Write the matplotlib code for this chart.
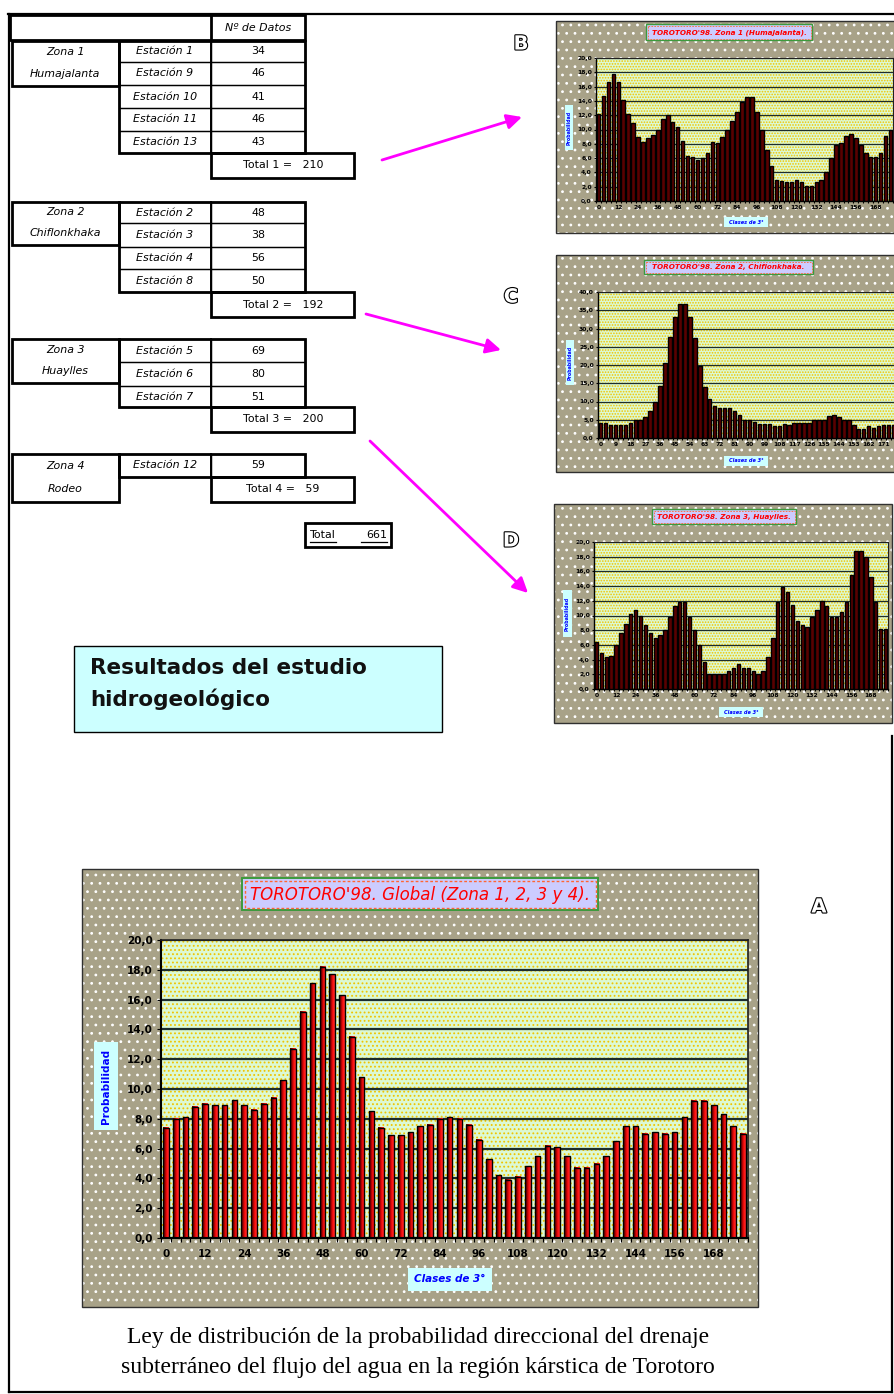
import numpy as np
import matplotlib
matplotlib.use("Agg")
import matplotlib.pyplot as plt
from matplotlib.patches import Rectangle
from matplotlib.colors import LinearSegmentedColormap
import matplotlib.patheffects as pe

# ---------------------------------------------------------------- data
zone_names = ["Zona 1", "Zona 2", "Zona 3", "Zona 4"]
zone_places = ["Humajalanta", "Chiflonkhaka", "Huaylles", "Rodeo"]
zone_stations = [
    ["Estación 1", "Estación 9", "Estación 10", "Estación 11", "Estación 13"],
    ["Estación 2", "Estación 3", "Estación 4", "Estación 8"],
    ["Estación 5", "Estación 6", "Estación 7"],
    ["Estación 12"],
]
zone_counts = [[34, 46, 41, 46, 43], [48, 38, 56, 50], [69, 80, 51], [59]]
zone_totals = [210, 192, 200, 59]
grand_total = 661
header_label = "Nº de Datos"

class_step = 3
class_starts = list(range(0, 180, class_step))   # 60 direction classes of 3°

global_prob = [7.4, 8.0, 8.1, 8.8, 9.0, 8.9, 8.9, 9.25, 8.9, 8.6,
               9.0, 9.4, 10.6, 12.7, 15.2, 17.1, 18.2, 17.7, 16.3, 13.5,
               10.8, 8.5, 7.4, 6.9, 6.9, 7.1, 7.5, 7.6, 8.0, 8.1,
               8.0, 7.6, 6.6, 5.3, 4.2, 3.9, 4.1, 4.8, 5.5, 6.2,
               6.1, 5.5, 4.7, 4.7, 5.0, 5.5, 6.5, 7.5, 7.5, 7.0,
               7.1, 7.0, 7.1, 8.1, 9.2, 9.2, 8.9, 8.3, 7.5, 7.0]
zone1_prob = [12.1, 14.7, 16.6, 17.75, 16.7, 14.1, 12.1, 10.9, 9.0, 8.2,
              8.8, 9.3, 10.0, 11.4, 12.0, 11.1, 10.3, 8.4, 6.3, 6.1,
              5.7, 6.0, 6.65, 8.2, 8.15, 9.0, 10.0, 11.2, 12.5, 13.8,
              14.5, 14.5, 12.4, 10.0, 7.2, 4.9, 3.0, 2.8, 2.7, 2.7,
              2.9, 2.7, 2.1, 2.1, 2.7, 2.9, 4.0, 6.0, 7.8, 8.15,
              9.1, 9.4, 8.8, 7.8, 6.65, 6.2, 6.2, 6.65, 9.1, 10.0]
zone2_prob = [4.1, 4.1, 3.6, 3.6, 3.6, 3.6, 4.1, 5.0, 5.0, 5.7,
              7.3, 10.0, 14.3, 20.5, 27.7, 33.2, 36.8, 36.8, 33.2, 27.3,
              19.8, 13.9, 10.7, 8.8, 8.2, 8.2, 8.2, 7.3, 6.2, 5.0,
              4.8, 4.3, 3.8, 3.8, 3.8, 3.4, 3.4, 3.8, 3.6, 4.1,
              4.1, 4.1, 4.1, 5.0, 5.0, 5.0, 6.1, 6.2, 5.7, 5.0,
              5.0, 3.6, 2.5, 2.5, 3.2, 2.7, 3.2, 3.6, 3.6, 3.6]
zone3_prob = [6.4, 4.9, 4.3, 4.5, 6.0, 7.6, 8.8, 10.2, 10.7, 9.9,
              8.7, 7.6, 6.9, 7.3, 8.0, 9.8, 11.3, 11.8, 11.8, 9.8,
              8.0, 6.0, 3.7, 2.0, 2.0, 2.0, 2.0, 2.4, 2.8, 3.4,
              2.8, 2.8, 2.4, 2.0, 2.4, 4.4, 6.9, 11.8, 13.9, 13.2,
              11.4, 9.3, 8.7, 8.5, 9.8, 10.7, 12.0, 11.3, 9.8, 9.8,
              10.5, 11.8, 15.5, 18.8, 18.8, 18.0, 15.3, 11.8, 8.2, 8.2]

title_global = "TOROTORO'98. Global (Zona 1, 2, 3 y 4)."
title_z1 = "TOROTORO'98. Zona 1 (Humajalanta)."
title_z2 = "TOROTORO'98. Zona 2, Chiflonkhaka."
title_z3 = "TOROTORO'98. Zona 3, Huaylles."
ylabel_text = "Probabilidad"
xlabel_text = "Clases de 3°"
panel_letters = ["B", "C", "D", "A"]
banner_lines = ["Resultados del estudio", "hidrogeológico"]
caption_lines = ["Ley de distribución de la probabilidad direccional del drenaje",
                 "subterráneo del flujo del agua en la región kárstica de Torotoro"]

# ---------------------------------------------------------------- style
plt.rcParams["hatch.linewidth"] = 0.8
plt.rcParams["font.family"] = ["DejaVu Sans"]
KHAKI = "#a8a288"
PLOT_BG = "#dcf9d4"
PLOT_DOT = "#f0c400"
CYAN = "#ccffff"
MAGENTA = "#ff00ff"
bar_cmap = LinearSegmentedColormap.from_list(
    "barred", ["#3a0000", "#9a0000", "#ff1010", "#ff3030"])

W, H = 894, 1394
fig = plt.figure(figsize=(W / 100, H / 100), dpi=100)
fig.patch.set_facecolor("white")


def px_rect(x0, y0, x1, y1):
    return [x0 / W, 1 - y1 / H, (x1 - x0) / W, (y1 - y0) / H]


ov = fig.add_axes([0, 0, 1, 1], zorder=0)
ov.set_xlim(0, W)
ov.set_ylim(H, 0)
ov.axis("off")


def rect(x0, y0, x1, y1, lw=1.0, fc="none", ec="black", z=3, **kw):
    p = Rectangle((x0, y0), x1 - x0, y1 - y0, facecolor=fc, edgecolor=ec,
                  linewidth=lw, zorder=z, **kw)
    ov.add_patch(p)
    return p


# ---------------------------------------------------------------- outer frame
FR = 1.6
ov.plot([8, 894], [14, 14], color="black", lw=FR, zorder=0.5)
ov.plot([9, 9], [14, 1392], color="black", lw=FR, zorder=0.5)
ov.plot([9, 892], [1392, 1392], color="black", lw=FR, zorder=0.5)
ov.plot([892, 892], [736, 1392], color="black", lw=FR, zorder=0.5)

# ---------------------------------------------------------------- table
THICK, THIN = 2.0, 0.9
TFS = 7.9


def ctext(x, y, s, italic=True, size=TFS, **kw):
    ov.text(x, y, s, ha="center", va="center", fontsize=size,
            style="italic" if italic else "normal", color="black", zorder=5, **kw)


rect(10, 15, 305, 40, THICK)
ov.plot([211, 211], [15, 40], color="black", lw=THICK, zorder=3)
ctext(258, 28, header_label)

zone_rows = [[41, 62, 85, 108, 131, 153], [202, 223, 247, 269, 292],
             [339, 362, 386, 407], [454, 477]]
zone_cell_bottom = [86, 245, 383, 502]
for i in range(len(zone_names)):
    edges = zone_rows[i]
    top, bottom = edges[0], edges[-1]
    zb = zone_cell_bottom[i]
    rect(12, top, 119, zb, THICK)
    ctext(65, top + (zb - top) * 0.24, zone_names[i])
    ctext(65, top + (zb - top) * 0.73, zone_places[i])
    for j, (st, cnt) in enumerate(zip(zone_stations[i], zone_counts[i])):
        r0, r1 = edges[j], edges[j + 1]
        rect(119, r0, 211, r1, THIN)
        rect(211, r0, 305, r1, THIN)
        ctext(165, (r0 + r1) / 2, st)
        ctext(258, (r0 + r1) / 2, str(cnt), italic=False)
    rect(119, top, 305, bottom, THICK)
    ov.plot([211, 211], [top, bottom], color="black", lw=1.4, zorder=3)
    rect(211, bottom, 354, bottom + 25, THICK)
    ctext(283, bottom + 12.5, f"Total {i + 1} =   {zone_totals[i]}", italic=False)

rect(305, 523, 391, 547, THICK)
ov.text(310, 535, "Total", ha="left", va="center", fontsize=TFS, zorder=5)
ov.text(387, 535, str(grand_total), ha="right", va="center", fontsize=TFS, zorder=5)
ov.plot([310, 336], [542, 542], color="black", lw=0.9, zorder=5)
ov.plot([361, 387], [542, 542], color="black", lw=0.9, zorder=5)

# ---------------------------------------------------------------- arrows
arrow_paths = [((382, 160), (522, 117)), ((366, 314), (501, 350)), ((370, 441), (528, 593))]
for (xs, ys), (xe, ye) in arrow_paths:
    ov.annotate("", xy=(xe, ye), xytext=(xs, ys), zorder=4,
                arrowprops=dict(arrowstyle="-|>,head_length=0.9,head_width=0.45",
                                color=MAGENTA, lw=2.0, shrinkA=0, shrinkB=0))

# ---------------------------------------------------------------- letters
letter_pos = [(521, 44), (511, 297), (511, 541), (819, 907)]
for s, (lx, ly) in zip(panel_letters, letter_pos):
    ov.text(lx, ly, s, ha="center", va="center", fontsize=14, fontweight="bold",
            color="white", zorder=6,
            path_effects=[pe.withStroke(linewidth=1.6, foreground="black")])

# ---------------------------------------------------------------- banner
rect(74, 646, 442, 732, lw=1.0, fc=CYAN, z=3)
ov.text(90, 668, banner_lines[0], ha="left", va="center", fontsize=15.5,
        fontweight="bold", color="#111111", zorder=5)
ov.text(90, 699, banner_lines[1], ha="left", va="center", fontsize=15.5,
        fontweight="bold", color="#111111", zorder=5)

# ---------------------------------------------------------------- caption
ov.text(418, 1338, caption_lines[0], ha="center", va="center", fontsize=17,
        family="Liberation Serif", zorder=5)
ov.text(418, 1368, caption_lines[1], ha="center", va="center", fontsize=17,
        family="Liberation Serif", zorder=5)


# ---------------------------------------------------------------- charts
def fmt(v):
    return f"{v:.1f}".replace(".", ",")


def draw_chart(values, panel, plot, ymax, ystep, title, tbox, label_every,
               ylbox, xlbox, big=False):
    n = len(values)
    x0, y0, x1, y1 = panel
    rect(x0, y0, x1, y1, lw=0, fc=KHAKI, ec="white", z=1, hatch="..")
    rect(x0, y0, x1, y1, lw=1.0, fc="none", ec="#303030", z=1.2)

    # title box
    tx0, ty0, tx1, ty1 = tbox
    rect(tx0, ty0, tx1, ty1, lw=1.4 if big else 1.0, fc="#ccccff", ec="#3c9a3c", z=2)
    ins = 2.5 if big else 1.5
    rect(tx0 + ins, ty0 + ins, tx1 - ins, ty1 - ins, lw=1.0 if big else 0.6,
         fc="none", ec="#ff6633", z=2.1, linestyle=(0, (2, 1.5)))
    ov.text((tx0 + tx1) / 2, (ty0 + ty1) / 2 + 0.5, title, color="#ff0000",
            fontsize=12 if big else 5.2, style="italic",
            fontweight="normal" if big else "bold",
            ha="center", va="center", zorder=3)

    # axis-title boxes
    lx0, ly0, lx1, ly1 = ylbox
    rect(lx0, ly0, lx1, ly1, lw=0, fc=CYAN, z=2)
    ov.text((lx0 + lx1) / 2, (ly0 + ly1) / 2, ylabel_text, rotation=90,
            color="#0000ff", fontsize=7.5 if big else 3.4, fontweight="bold",
            ha="center", va="center", zorder=3)
    bx0, by0, bx1, by1 = xlbox
    rect(bx0, by0, bx1, by1, lw=0, fc=CYAN, z=2)
    ov.text((bx0 + bx1) / 2, (by0 + by1) / 2, xlabel_text,
            color="#0000ff", fontsize=7.5 if big else 3.6, fontweight="bold",
            style="italic", ha="center", va="center", zorder=3)

    ax = fig.add_axes(px_rect(*plot), zorder=2)
    ax.set_facecolor(PLOT_BG)
    ax.add_patch(Rectangle((0, 0), 1, 1, transform=ax.transAxes, facecolor=PLOT_BG,
                           edgecolor=PLOT_DOT, linewidth=0,
                           hatch="...." if big else "......", zorder=0))
    xs = np.arange(n)
    if big:
        bars = ax.bar(xs, values, width=0.58, facecolor="none", edgecolor="black",
                      linewidth=1.0, zorder=3)
        grad = np.linspace(0, 1, 64).reshape(1, -1)
        for b in bars:
            bx, bw, bh = b.get_x(), b.get_width(), b.get_height()
            ax.imshow(grad, extent=(bx, bx + bw, 0, bh), cmap=bar_cmap,
                      aspect="auto", zorder=2.5, interpolation="bilinear")
    else:
        ax.bar(xs, values, width=0.7, facecolor="#5a0000", edgecolor="black",
               linewidth=1.0, zorder=3)
    ax.set_xlim(-0.5, n - 0.5)
    ax.set_ylim(0, ymax)
    ax.set_aspect("auto")
    yt = np.arange(0, ymax + ystep / 2, ystep)
    ax.set_yticks(yt)
    ax.set_yticklabels([fmt(v) for v in yt])
    ax.yaxis.grid(True, color="#1c2c2c", linewidth=1.6 if big else 0.9)
    ax.set_axisbelow(True)
    ax.set_xticks(xs[::label_every])
    ax.set_xticklabels([str(class_starts[k]) for k in range(0, n, label_every)])
    ax.set_xticks(np.arange(-0.5, n, 1.0), minor=True)
    fs = 7.5 if big else 4.3
    ax.tick_params(axis="x", which="major", length=0, pad=8 if big else 3,
                   labelsize=fs)
    ax.tick_params(axis="x", which="minor", length=3 if big else 1.5, width=0.8)
    ax.tick_params(axis="y", length=3 if big else 1.5, width=0.8,
                   pad=3 if big else 1.5, labelsize=fs)
    for lab in ax.get_xticklabels() + ax.get_yticklabels():
        lab.set_fontweight("bold")
    for side in ["left", "bottom"]:
        ax.spines[side].set_linewidth(1.5 if big else 1.0)
    for side in ["top", "right"]:
        ax.spines[side].set_linewidth(1.2 if big else 0.8)
        ax.spines[side].set_color("#202020")
    return ax


# Zona 1 (B)
draw_chart(zone1_prob, panel=(556, 21, 905, 233), plot=(596, 58, 893, 201),
           ymax=20, ystep=2, title=title_z1, tbox=(646, 24, 812, 40), label_every=4,
           ylbox=(565, 105, 573, 150), xlbox=(724, 217, 768, 227))
# Zona 2 (C)
draw_chart(zone2_prob, panel=(556, 255, 905, 472), plot=(598, 292, 896, 438),
           ymax=40, ystep=5, title=title_z2, tbox=(644, 260, 813, 274), label_every=3,
           ylbox=(566, 340, 574, 385), xlbox=(724, 456, 768, 466))
# Zona 3 (D)
draw_chart(zone3_prob, panel=(554, 504, 892, 723), plot=(594, 542, 888, 689),
           ymax=20, ystep=2, title=title_z3, tbox=(652, 509, 796, 524), label_every=4,
           ylbox=(563, 590, 572, 637), xlbox=(719, 707, 763, 717))
# Global (A)
draw_chart(global_prob, panel=(82, 869, 758, 1307), plot=(161, 940, 748, 1238),
           ymax=20, ystep=2, title=title_global, tbox=(242, 878, 598, 910), label_every=4,
           ylbox=(94, 1042, 118, 1130), xlbox=(408, 1268, 492, 1291), big=True)

fig.savefig("out.png", dpi=100)
